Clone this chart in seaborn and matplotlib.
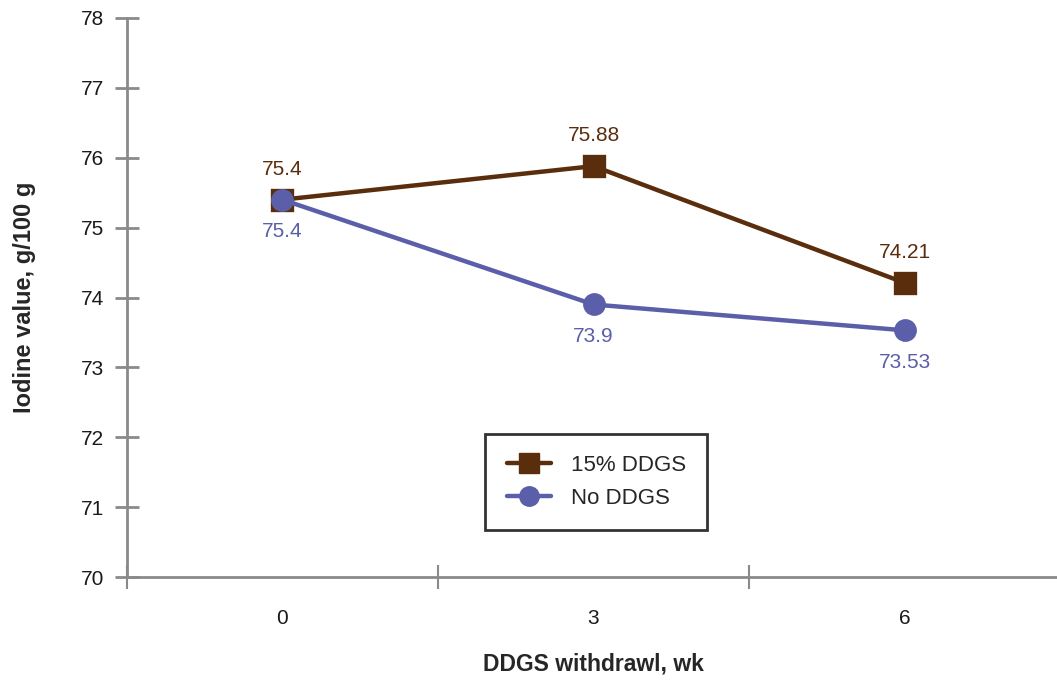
import matplotlib
matplotlib.use("Agg")
import matplotlib.pyplot as plt
from matplotlib.lines import Line2D
import seaborn as sns
import pandas as pd

weeks = ["0", "3", "6"]
ddgs15 = [75.4, 75.88, 74.21]
no_ddgs = [75.4, 73.9, 73.53]
series_names = ["15% DDGS", "No DDGS"]
colors = {"15% DDGS": "#5a2d0c", "No DDGS": "#5b5ea8"}

df = pd.DataFrame({
    "week": weeks * 2,
    "value": ddgs15 + no_ddgs,
    "diet": [series_names[0]] * 3 + [series_names[1]] * 3,
})

sns.set_style("white")
plt.rcParams["font.family"] = ["Liberation Sans", "DejaVu Sans"]

fig = plt.figure(figsize=(10.57, 6.84), dpi=100)
ax = fig.add_axes([0.120, 0.1564, 0.883, 0.8173])

sns.pointplot(data=df, x="week", y="value", hue="diet", order=weeks,
              hue_order=series_names, palette=colors, markers=["s", "o"],
              linestyles=["-", "-"], markersize=14, linewidth=3.2,
              errorbar=None, ax=ax, legend=False)

# value labels: brown above, blue below
for i, v in enumerate(ddgs15):
    ax.annotate(f"{v:g}", (i, v), xytext=(0, 22), textcoords="offset points",
                ha="center", va="center", fontsize=15, color=colors["15% DDGS"])
for i, v in enumerate(no_ddgs):
    ax.annotate(f"{v:g}", (i, v), xytext=(0, -23), textcoords="offset points",
                ha="center", va="center", fontsize=15, color=colors["No DDGS"])

ax.set_ylim(70, 78)
ax.set_xlim(-0.5, 2.5)
ax.set_yticks(range(70, 79))

axis_gray = "#8a8a8a"
for side in ["top", "right"]:
    ax.spines[side].set_visible(False)
for side in ["left", "bottom"]:
    ax.spines[side].set_color(axis_gray)
    ax.spines[side].set_linewidth(2)

# category labels centred, tick marks at category boundaries
ax.set_xticks([-0.5, 0.5, 1.5, 2.5])
ax.set_xticklabels([])
ax.set_xticks([0, 1, 2], minor=True)
ax.set_xticklabels(weeks, minor=True)
ax.tick_params(axis="x", which="major", bottom=True, direction="inout",
               length=17, width=1.5, color=axis_gray)
ax.tick_params(axis="x", which="minor", bottom=True, length=0, pad=23,
               labelsize=15, labelcolor="#1a1a1a")
ax.tick_params(axis="y", left=True, direction="inout", length=17, width=2,
               color=axis_gray, labelsize=15, labelcolor="#1a1a1a", pad=8)

ax.set_xlabel("DDGS withdrawl, wk", fontsize=16.5, fontweight="bold", labelpad=18)
ax.set_ylabel("Iodine value, g/100 g", fontsize=17, fontweight="bold", labelpad=32)

handles = [Line2D([], [], color=colors[n], marker=m, markersize=14, linewidth=3.2)
           for n, m in zip(series_names, ["s", "o"])]
leg = ax.legend(handles, series_names, loc="center", bbox_to_anchor=(0.503, 0.17),
                fontsize=16, frameon=True, fancybox=False, borderpad=0.95,
                handlelength=2.0, labelspacing=0.55, handletextpad=0.9,
                borderaxespad=0)
leg.get_frame().set_edgecolor("black")
leg.get_frame().set_linewidth(2)

fig.savefig("out.png", dpi=100)
